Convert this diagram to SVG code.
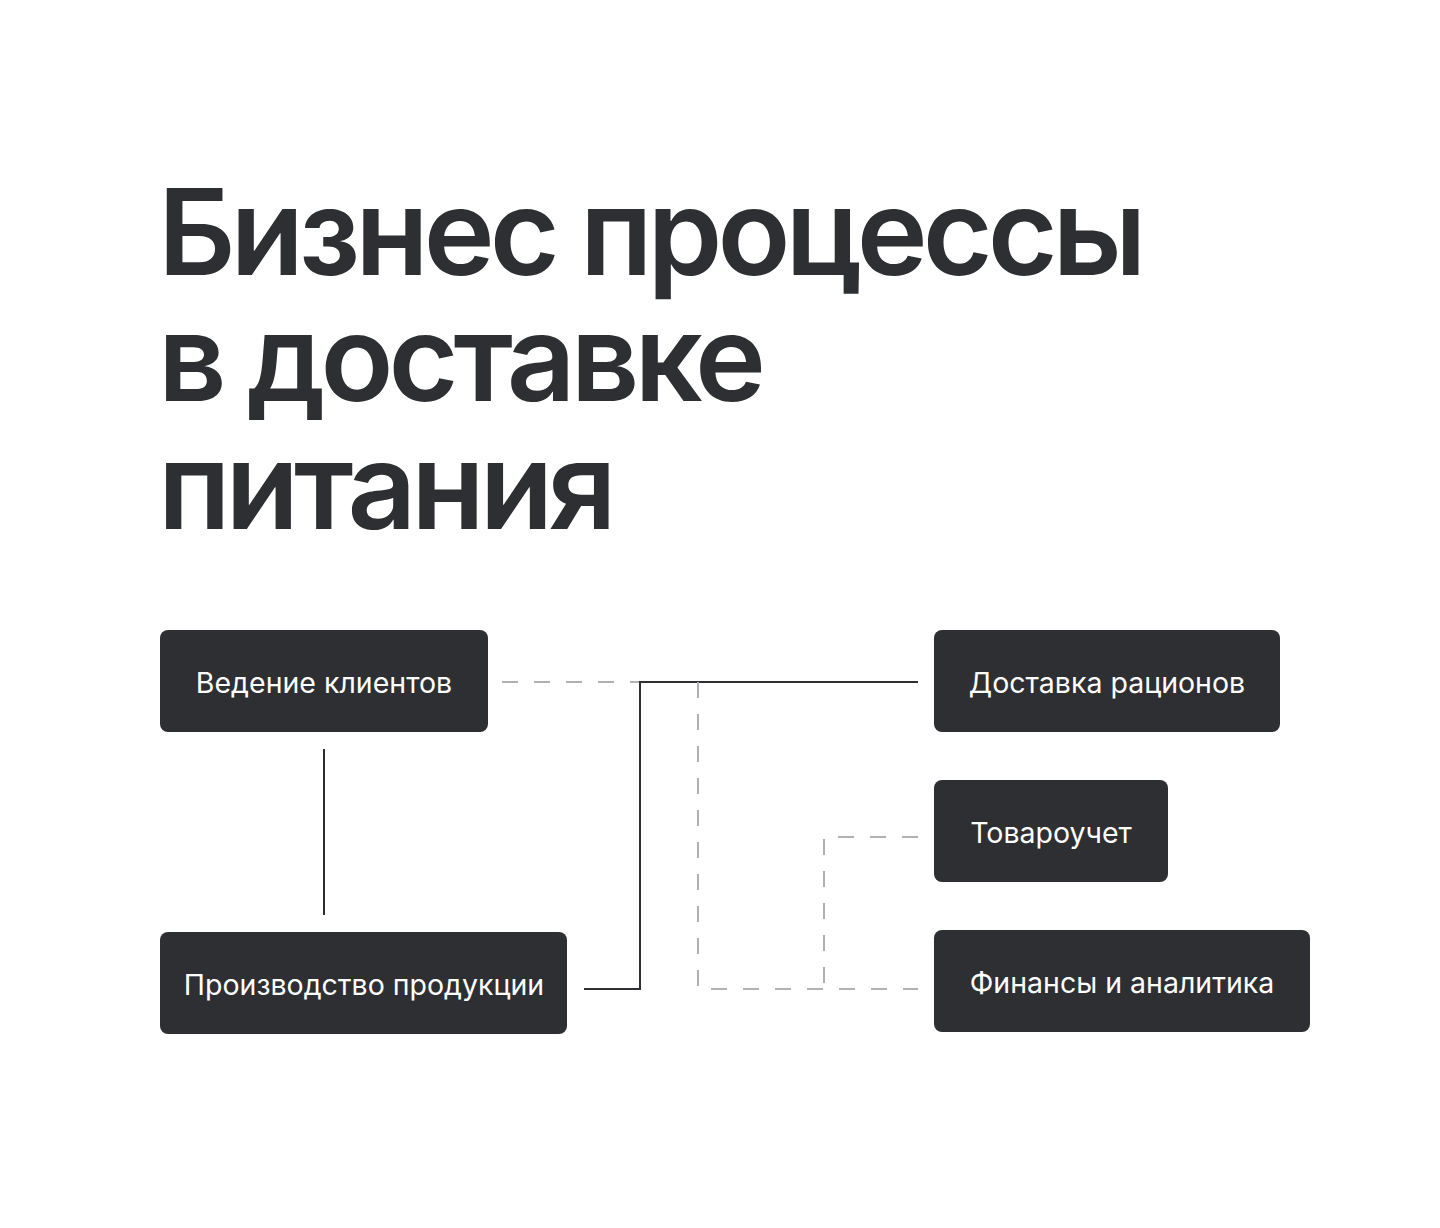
<svg xmlns="http://www.w3.org/2000/svg" width="1440" height="1228" viewBox="0 0 1440 1228">
<style>
.bg{fill:#ffffff}
.title{font-family:Inter,"Liberation Sans",sans-serif;font-weight:600;font-size:120px;fill:#2e2f33;letter-spacing:-5px}
.box{fill:#2e2f33}
.lbl{font-family:Inter,"Liberation Sans",sans-serif;font-size:28.5px;fill:#ffffff;text-anchor:middle;dominant-baseline:central;letter-spacing:0px}
.solid{fill:none;stroke:#2e2f33;stroke-width:2}
.dash{fill:none;stroke:#b0b1b6;stroke-width:2;stroke-dasharray:16 16}
</style>
<rect class="bg" x="0" y="0" width="1440" height="1228"/>
<g id="title">
<text class="title" x="158" y="275">Бизнес процессы</text>
<text class="title" x="158" y="401">в доставке</text>
<text class="title" x="158" y="529">питания</text>
</g>
<g id="connectors">
<line class="solid" x1="324" y1="749" x2="324" y2="915"/>
<path class="dash" d="M502 682 H640"/>
<path class="solid" d="M918 682 H640 V989 H584"/>
<path class="dash" d="M698 682 V989 H918"/>
<path class="dash" d="M918 837 H824 V989"/>
</g>
<g id="n1"><rect class="box" x="160" y="630" width="328" height="102" rx="8"/><text class="lbl" x="324" y="682">Ведение клиентов</text></g>
<g id="n2"><rect class="box" x="160" y="932" width="407" height="102" rx="8"/><text class="lbl" x="364" y="984">Производство продукции</text></g>
<g id="n3"><rect class="box" x="934" y="630" width="346" height="102" rx="8"/><text class="lbl" x="1107" y="682">Доставка рационов</text></g>
<g id="n4"><rect class="box" x="934" y="780" width="234" height="102" rx="8"/><text class="lbl" x="1051" y="832">Товароучет</text></g>
<g id="n5"><rect class="box" x="934" y="930" width="376" height="102" rx="8"/><text class="lbl" x="1122" y="982">Финансы и аналитика</text></g>
</svg>
